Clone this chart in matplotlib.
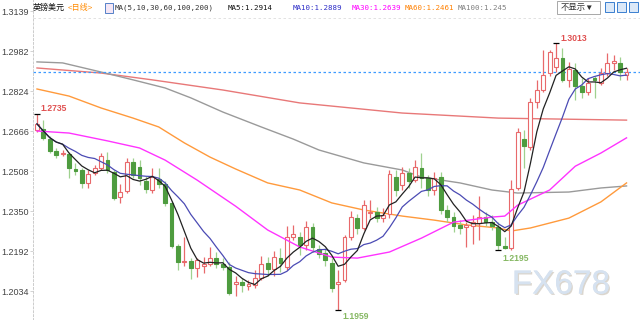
import matplotlib.pyplot as plt
import matplotlib.patheffects as pe
from matplotlib.patches import Rectangle

plt.rcParams['font.family'] = ['Liberation Sans', 'Noto Sans CJK SC', 'DejaVu Sans']

# daily candles GBP/USD (open, high, low, close)
opens = [1.2670, 1.2674, 1.2634, 1.2587, 1.2575, 1.2575, 1.2516, 1.2512, 1.2461, 1.2500,
         1.2520, 1.2551, 1.2504, 1.2405, 1.2429, 1.2543, 1.2524, 1.2468, 1.2433, 1.2476,
         1.2456, 1.2381, 1.2211, 1.2148, 1.2152, 1.2125, 1.2132, 1.2140, 1.2164, 1.2140,
         1.2128, 1.2061, 1.2069, 1.2053, 1.2057, 1.2085, 1.2144, 1.2121, 1.2164, 1.2129,
         1.2247, 1.2247, 1.2215, 1.2286, 1.2200, 1.2184, 1.2144, 1.2061, 1.2077, 1.2247,
         1.2322, 1.2283, 1.2342, 1.2346, 1.2322, 1.2338, 1.2484, 1.2453, 1.2500, 1.2472,
         1.2520, 1.2480, 1.2433, 1.2484, 1.2354, 1.2326, 1.2294, 1.2287, 1.2291, 1.2302,
         1.2326, 1.2306, 1.2287, 1.2211, 1.2204, 1.2441, 1.2634, 1.2603, 1.2781, 1.2828,
         1.2895, 1.2919, 1.2954, 1.2868, 1.2907, 1.2844, 1.2820, 1.2875, 1.2856, 1.2895,
         1.2935, 1.2935, 1.2887]
highs = [1.2735, 1.2709, 1.2646, 1.2599, 1.2591, 1.2583, 1.2540, 1.2520, 1.2512, 1.2532,
         1.2579, 1.2583, 1.2512, 1.2456, 1.2559, 1.2559, 1.2551, 1.2488, 1.2520, 1.2520,
         1.2468, 1.2389, 1.2219, 1.2247, 1.2164, 1.2164, 1.2168, 1.2208, 1.2188, 1.2164,
         1.2148, 1.2093, 1.2085, 1.2077, 1.2117, 1.2172, 1.2168, 1.2192, 1.2204, 1.2291,
         1.2294, 1.2267, 1.2310, 1.2302, 1.2216, 1.2204, 1.2164, 1.2117, 1.2255, 1.2350,
         1.2338, 1.2393, 1.2393, 1.2365, 1.2361, 1.2512, 1.2512, 1.2524, 1.2520, 1.2551,
         1.2579, 1.2492, 1.2504, 1.2504, 1.2373, 1.2346, 1.2314, 1.2306, 1.2334, 1.2409,
         1.2346, 1.2334, 1.2306, 1.2247, 1.2472, 1.2678, 1.2670, 1.2796, 1.2868, 1.2986,
         1.2986, 1.3013, 1.2994, 1.2939, 1.2935, 1.2875, 1.2875, 1.2883, 1.2915, 1.2974,
         1.2966, 1.2958, 1.2915]
lows = [1.2662, 1.2630, 1.2579, 1.2559, 1.2567, 1.2480, 1.2492, 1.2441, 1.2441, 1.2492,
        1.2512, 1.2500, 1.2393, 1.2381, 1.2421, 1.2480, 1.2453, 1.2421, 1.2421, 1.2441,
        1.2369, 1.2204, 1.2117, 1.2132, 1.2081, 1.2089, 1.2105, 1.2132, 1.2124, 1.2117,
        1.2018, 1.2014, 1.2030, 1.2038, 1.2046, 1.2077, 1.2093, 1.2093, 1.2109, 1.2117,
        1.2235, 1.2176, 1.2196, 1.2188, 1.2164, 1.2132, 1.2030, 1.1959, 1.2069, 1.2235,
        1.2259, 1.2275, 1.2322, 1.2306, 1.2306, 1.2322, 1.2409, 1.2433, 1.2441, 1.2464,
        1.2441, 1.2409, 1.2413, 1.2338, 1.2306, 1.2267, 1.2259, 1.2208, 1.2219, 1.2235,
        1.2291, 1.2275, 1.2195, 1.2200, 1.2196, 1.2433, 1.2520, 1.2591, 1.2757, 1.2820,
        1.2883, 1.2899, 1.2860, 1.2840, 1.2788, 1.2796, 1.2808, 1.2796, 1.2848, 1.2883,
        1.2907, 1.2868, 1.2868]
closes = [1.2694, 1.2638, 1.2587, 1.2571, 1.2579, 1.2520, 1.2508, 1.2461, 1.2496, 1.2520,
          1.2567, 1.2512, 1.2401, 1.2425, 1.2543, 1.2492, 1.2480, 1.2437, 1.2484, 1.2456,
          1.2381, 1.2211, 1.2148, 1.2152, 1.2125, 1.2156, 1.2140, 1.2164, 1.2140, 1.2128,
          1.2026, 1.2069, 1.2057, 1.2061, 1.2085, 1.2140, 1.2121, 1.2168, 1.2144, 1.2247,
          1.2259, 1.2215, 1.2286, 1.2208, 1.2180, 1.2156, 1.2046, 1.2069, 1.2247, 1.2326,
          1.2283, 1.2373, 1.2346, 1.2322, 1.2334, 1.2496, 1.2433, 1.2500, 1.2468, 1.2524,
          1.2480, 1.2433, 1.2480, 1.2354, 1.2326, 1.2291, 1.2283, 1.2294, 1.2306, 1.2326,
          1.2306, 1.2291, 1.2215, 1.2204, 1.2437, 1.2662, 1.2607, 1.2781, 1.2828, 1.2887,
          1.2978, 1.2954, 1.2868, 1.2911, 1.2844, 1.2820, 1.2856, 1.2868, 1.2895, 1.2935,
          1.2942, 1.2899, 1.2899]

# longer moving averages, read at a few candle positions
ma30_idx = [0, 5, 11, 16, 20, 25, 31, 36, 41, 46, 50, 55, 60, 65, 71, 73, 75, 80, 84, 88, 92]
ma30_val = [1.2666, 1.2658, 1.2627, 1.2599, 1.2551, 1.2472, 1.2369, 1.2275, 1.2208, 1.2168,
            1.2164, 1.2188, 1.2243, 1.2306, 1.2326, 1.2330, 1.2373, 1.2433, 1.2527, 1.2579, 1.2639]
ma60_idx = [0, 5, 10, 15, 19, 23, 27, 31, 36, 41, 46, 51, 57, 62, 67, 72, 74, 77, 83, 88, 92]
ma60_val = [1.2832, 1.2804, 1.2757, 1.2717, 1.2682, 1.2619, 1.2563, 1.2516, 1.2461, 1.2433,
            1.2382, 1.2354, 1.2330, 1.2314, 1.2295, 1.2283, 1.2271, 1.2283, 1.2322, 1.2386, 1.2461]
ma100_idx = [0, 4, 10, 15, 20, 24, 29, 35, 40, 44, 51, 57, 60, 66, 71, 75, 83, 88, 92]
ma100_val = [1.2939, 1.2935, 1.2899, 1.2868, 1.2836, 1.2797, 1.2741, 1.2682, 1.2634, 1.2591,
             1.2540, 1.2512, 1.2484, 1.2461, 1.2433, 1.2421, 1.2425, 1.2441, 1.2449]
ma200_idx = [0, 10, 18, 29, 41, 57, 72, 92]
ma200_val = [1.2915, 1.2895, 1.2868, 1.2828, 1.2777, 1.2737, 1.2717, 1.2709]

yticks = [1.3139, 1.2982, 1.2824, 1.2666, 1.2508, 1.2350, 1.2192, 1.2034]


def rolling(vals, n):
    out = []
    for i in range(len(vals)):
        w = vals[max(0, i - n + 1):i + 1]
        out.append(sum(w) / len(w))
    return out


RED, GREEN, GREEN_W = '#e8696b', '#4e9c3f', '#9fd18f'
W, H = 640, 320
fig = plt.figure(figsize=(6.4, 3.2), dpi=100)
ax = fig.add_axes([33 / W, 0, 1 - 33 / W, 1])
ax.set_xlim(-0.62, 94.1)
ax.set_ylim(1.19195, 1.31835)

for i, (o, h, l, c) in enumerate(zip(opens, highs, lows, closes)):
    up = c >= o
    col = RED if up else GREEN
    ax.vlines(i, l, h, color=RED if up else GREEN_W, lw=0.9, zorder=2)
    bot, top = min(o, c), max(o, c)
    ax.add_patch(Rectangle((i - 0.3, bot), 0.6, max(top - bot, 0.00025),
                           fc='white' if up else col, ec=col, lw=0.8, zorder=3))

ax.plot(ma200_idx, ma200_val, color='#e87878', lw=1.0, zorder=1)
ax.plot(ma100_idx, ma100_val, color='#9a9a9a', lw=1.0, zorder=1)
ax.plot(ma60_idx, ma60_val, color='#ff9a3c', lw=1.0, zorder=1)
ax.plot(ma30_idx, ma30_val, color='#ff33ff', lw=1.0, zorder=4)
n = range(len(closes))
ax.plot(n, rolling(closes, 10), color='#4b4bb4', lw=0.9, zorder=4)
ax.plot(n, rolling(closes, 5), color='#222222', lw=0.9, zorder=5)

ax.axhline(closes[-1], color='#3d9bff', lw=0.9, ls=(0, (2, 2)), zorder=1)
ax.axhline(1.31835 - 17.5 * 0.000395, color='#dddddd', lw=0.6, ls=(0, (3, 3)), zorder=0)

# extreme markers
ext = [(0, highs[0], '1.2735', '#e05050', 5), (81, highs[81], '1.3013', '#e05050', 5),
       (47, lows[47], '1.1959', '#86b863', -6), (72, lows[72], '1.2195', '#86b863', -8)]
for i, v, s, c, dy in ext:
    ax.plot(i, v, marker='_', color='k', ms=5, mew=0.9, zorder=6)
    ax.annotate(s, (i, v), xytext=(4, dy), textcoords='offset pixels',
                ha='left', va='center', fontsize=6.2, fontweight='bold', color=c)

ax.set_yticks(yticks)
ax.set_yticklabels([f'{t:.4f}' for t in yticks])
ax.tick_params(axis='y', length=2, width=0.6, color='#cccccc', labelsize=6.5,
               labelcolor='#444444', pad=1)
ax.set_xticks([])
for s in ['top', 'right', 'bottom']:
    ax.spines[s].set_visible(False)
ax.spines['left'].set_color('#cccccc')
ax.spines['left'].set_linestyle((0, (2, 2)))
ax.spines['left'].set_linewidth(0.7)


# header row
def hdr(x, s, c, size=6.0, fam=None):
    fig.text(x / W, 1 - 8 / H, s, color=c, fontsize=size, va='center', ha='left',
             family=fam or plt.rcParams['font.family'])


mono = ['DejaVu Sans Mono', 'Noto Sans CJK SC']
hdr(33, '英镑美元', '#111111', 5.8)
hdr(68, '<日线>', '#ff8a00', 5.8)
fig.add_artist(Rectangle((105 / W, 1 - 13 / H), 8 / W, 10 / H, transform=fig.transFigure,
                         fc='#f4e6f4', ec='#3b6fc0', lw=0.6))
hdr(115, 'MA(5,10,30,60,100,200)', '#333333', 5.4, mono)
hdr(228, 'MA5:1.2914', '#111111', 5.4, mono)
hdr(293, 'MA10:1.2889', '#2f2fc8', 5.4, mono)
hdr(352, 'MA30:1.2639', '#ff00ff', 5.4, mono)
hdr(405, 'MA60:1.2461', '#ff8000', 5.4, mono)
hdr(458, 'MA100:1.245', '#808080', 5.4, mono)

fig.add_artist(Rectangle((557 / W, 1 - 14 / H), 43 / W, 13 / H, transform=fig.transFigure,
                         fc='white', ec='#9a9a9a', lw=0.6))
hdr(561, '不显示▼', '#333333', 6.0)
for bx in (605, 617, 629):
    fig.add_artist(Rectangle((bx / W, 1 - 12 / H), 9 / W, 10 / H, transform=fig.transFigure,
                             fc='#dce9f8', ec='#3a7fd0', lw=0.7))

fig.text(561 / W, 1 - 285 / H, 'FX678', fontsize=24, color='#d6e2f0', ha='center',
         va='center', family='Liberation Sans',
         path_effects=[pe.withSimplePatchShadow(offset=(1.0, -1.0), shadow_rgbFace='#b0a494',
                                                alpha=0.45), pe.Normal()])

fig.savefig('out.png', dpi=100)
